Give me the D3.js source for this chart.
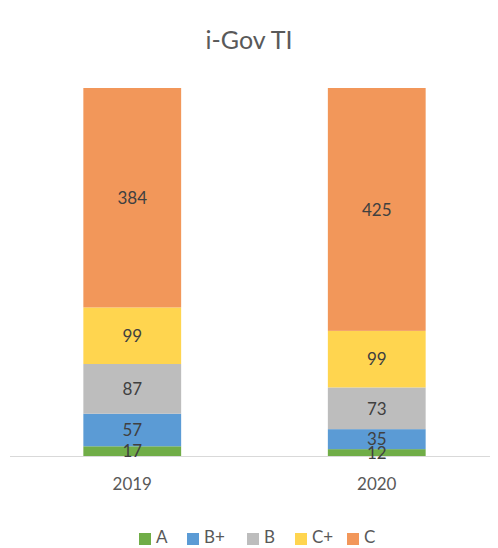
<!DOCTYPE html>
<html>
<head>
<meta charset="utf-8">
<script src="https://cdn.jsdelivr.net/npm/d3@7"></script>
<style>
  body { margin: 0; background: #fff; }
  text { font-family: Lato, "Open Sans", sans-serif; }
</style>
</head>
<body>
<div id="graf"></div>
<script>
// Datos
const years = ["2019", "2020"]
const grades = ["A", "B+", "B", "C+", "C"]
const valA = [17, 12]
const valBplus = [57, 35]
const valB = [87, 73]
const valCplus = [99, 99]
const valC = [384, 425]
const colores = ["#70ad47", "#5b9bd5", "#bdbdbd", "#ffd54f", "#f2975a"]

const draw = () => {
  const graf = d3.select("#graf")
  const anchoTotal = 498
  const altoTotal = 548

  const series = [valA, valBplus, valB, valCplus, valC]
  const tabla = years.map((yr, i) => {
    const row = { year: yr }
    grades.forEach((g, j) => (row[g] = series[j][i]))
    return row
  })
  const stack = d3.stack().keys(grades)(tabla)
  const maxTotal = d3.max(tabla, (d) => d3.sum(grades, (g) => d[g]))

  // Escaladores
  const x = d3.scaleBand().domain(years).range([10, 499])
    .paddingInner(0.6).paddingOuter(0.3)
  const y = d3.scaleLinear().domain([0, maxTotal]).range([456, 88])
  const color = d3.scaleOrdinal().domain(grades).range(colores)

  const svg = graf.append("svg")
    .attr("width", anchoTotal)
    .attr("height", altoTotal)

  // Titulo
  svg.append("text")
    .attr("x", anchoTotal / 2)
    .attr("y", 49)
    .attr("text-anchor", "middle")
    .attr("fill", "#595959")
    .style("font-size", "25px")
    .text("i-Gov TI")

  // Barras
  svg.append("g")
    .selectAll("g")
    .data(stack)
    .join("g")
    .attr("fill", (d) => color(d.key))
    .selectAll("rect")
    .data((d) => d)
    .join("rect")
    .attr("x", (d) => x(d.data.year))
    .attr("y", (d) => y(d[1]))
    .attr("width", x.bandwidth())
    .attr("height", (d) => y(d[0]) - y(d[1]))

  // Eje
  const xAxis = d3.axisBottom(x).tickSize(0).tickPadding(22)
  const xAxisGroup = svg.append("g")
    .attr("transform", `translate(0, ${y(0)})`)
    .call(xAxis)
  xAxisGroup.select(".domain").attr("stroke", "#d9d9d9").attr("d", "M10,0.5H490")
  xAxisGroup.selectAll("text")
    .attr("fill", "#595959")
    .style("font-size", "17px")

  // Etiquetas de valores (encima de todas las barras)
  svg.append("g")
    .selectAll("g")
    .data(stack)
    .join("g")
    .selectAll("text")
    .data((d) => d)
    .join("text")
    .attr("x", (d) => x(d.data.year) + x.bandwidth() / 2)
    .attr("y", (d) => (y(d[0]) + y(d[1])) / 2 + 2)
    .attr("text-anchor", "middle")
    .attr("dominant-baseline", "middle")
    .attr("fill", "#404040")
    .style("font-size", "17px")
    .text((d) => d[1] - d[0])

  // Leyenda
  const legendX = [139, 187, 247, 295, 347]
  const leyenda = svg.append("g")
    .selectAll("g")
    .data(grades)
    .join("g")
    .attr("transform", (d, i) => `translate(${legendX[i]}, 533)`)
  leyenda.append("rect")
    .attr("width", 12)
    .attr("height", 12)
    .attr("fill", (d) => color(d))
  leyenda.append("text")
    .attr("x", 17)
    .attr("y", 6)
    .attr("dominant-baseline", "middle")
    .attr("fill", "#595959")
    .style("font-size", "17px")
    .text((d) => d)
}

draw()
</script>
</body>
</html>
